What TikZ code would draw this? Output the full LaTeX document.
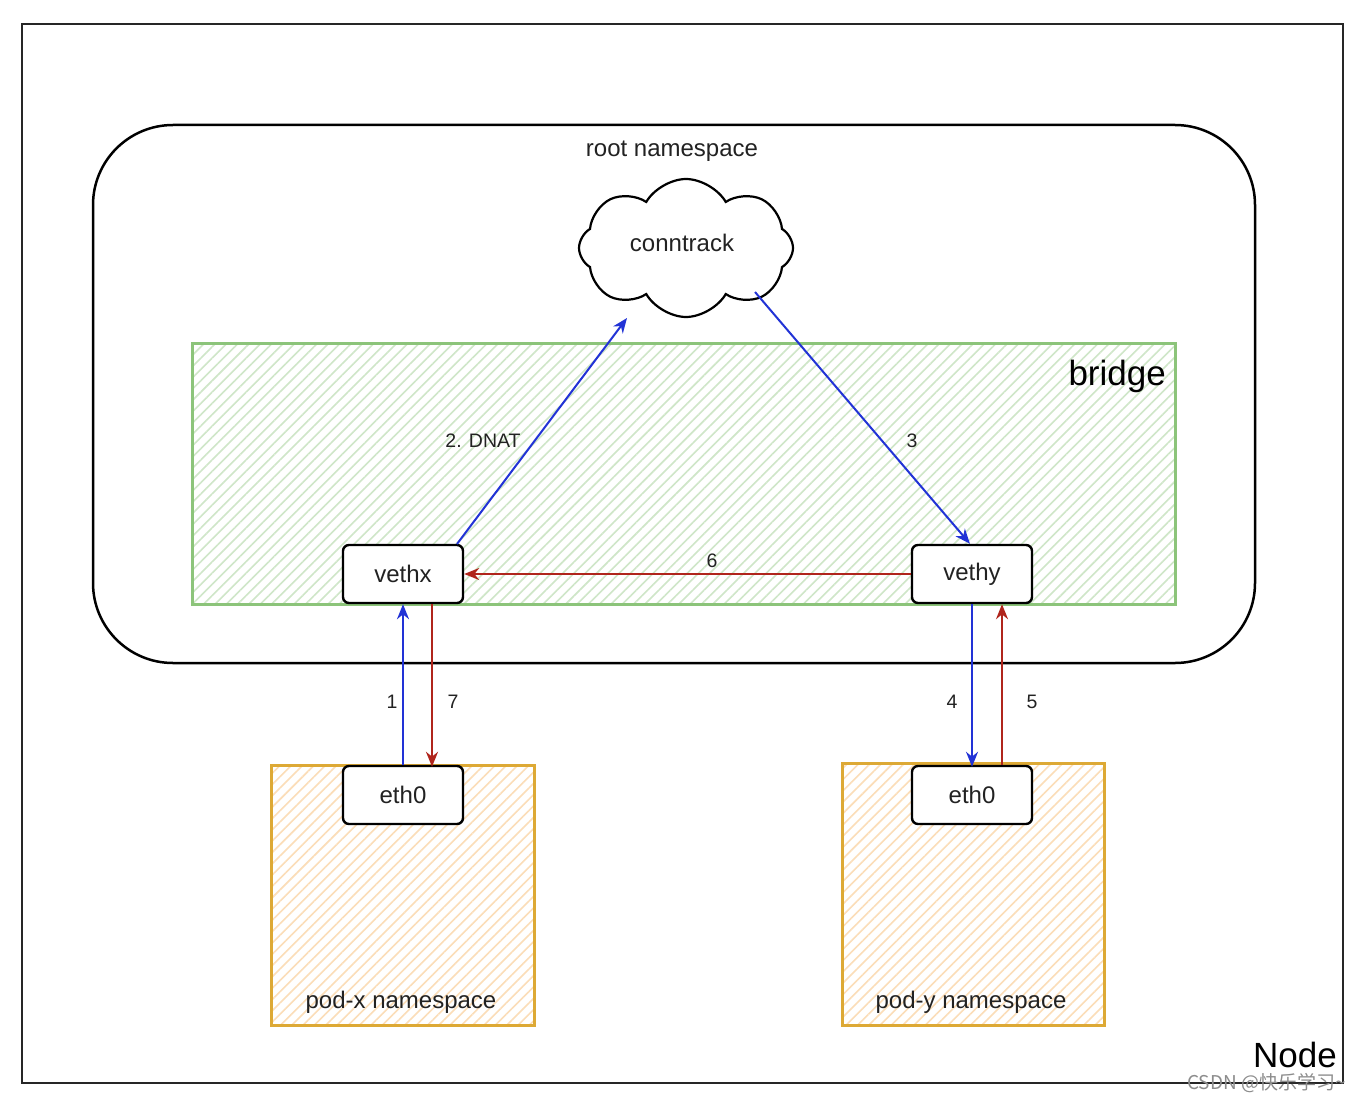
\documentclass[tikz,border=0pt]{standalone}
\usepackage{fontspec}
\setmainfont{Liberation Sans}
\newfontfamily\cjkfont{Noto Sans CJK SC}
\usetikzlibrary{shapes.symbols,patterns.meta,arrows.meta}
\definecolor{arrblue}{HTML}{2233D6}
\definecolor{arrred}{HTML}{B0251C}
\definecolor{brgreen}{HTML}{8CC47A}
\definecolor{hgreen}{HTML}{CFE6C8}
\definecolor{podor}{HTML}{DDA935}
\definecolor{hor}{HTML}{FBDDB8}
\definecolor{txt}{HTML}{222222}
\tikzset{
  iface/.style={draw=black, line width=2.4pt, rounded corners=6pt, fill=white,
    minimum width=120pt, minimum height=58pt, font=\fontsize{24}{28}\selectfont, text=txt, inner sep=0pt},
  blk/.style={line width=2pt, draw=arrblue, -{Stealth[length=15pt,width=12pt]}},
  rdk/.style={line width=2pt, draw=arrred, -{Stealth[length=15pt,width=12pt]}},
  numlbl/.style={font=\fontsize{19.5}{22}\selectfont, text=txt, inner sep=0pt},
  biglbl/.style={font=\fontsize{35}{40}\selectfont, text=black, inner sep=0pt},
  midlbl/.style={font=\fontsize{24}{28}\selectfont, text=txt, inner sep=0pt},
}
\begin{document}
\begin{tikzpicture}[x=1pt,y=-1pt]
\useasboundingbox (0,0) rectangle (1370,1102);
\fill[white] (0,0) rectangle (1370,1102);
% outer Node frame
\draw[line width=2pt, draw=black!85] (22,24) rectangle (1343,1083);
\node[biglbl, anchor=east] (nodelbl) at (1337,1055) {Node};
% root namespace
\draw[line width=2.5pt, rounded corners=80pt] (93,125) rectangle (1255,663);
\node[midlbl] (rootlbl) at (672,151) {root namespace};
% bridge
\fill[white] (192,343) rectangle (1175,604);
\fill[pattern={Lines[angle=45,distance=8pt,line width=1.6pt]}, pattern color=hgreen] (192,343) rectangle (1175,604);
\draw[line width=3pt, draw=brgreen] (192,343) rectangle (1175,604);
\node[biglbl, anchor=east] (bridgelbl) at (1166,376) {bridge};
% cloud
\node[cloud, cloud puffs=8, cloud puff arc=120, aspect=1.6, draw=black, line width=2.2pt, fill=white,
  minimum width=214pt, minimum height=138pt, font=\fontsize{24}{28}\selectfont, text=txt] (ct) at (686,248) {};
\node[midlbl] (ctlbl) at (682,243) {conntrack};
% pods
\fill[white] (271,765) rectangle (534,1025);
\fill[pattern={Lines[angle=45,distance=8pt,line width=1.6pt]}, pattern color=hor] (271,765) rectangle (534,1025);
\draw[line width=3pt, draw=podor] (271,765) rectangle (534,1025);
\node[midlbl] (podxlbl) at (401,1002) {pod-x namespace};
\fill[white] (842,763) rectangle (1104,1025);
\fill[pattern={Lines[angle=45,distance=8pt,line width=1.6pt]}, pattern color=hor] (842,763) rectangle (1104,1025);
\draw[line width=3pt, draw=podor] (842,763) rectangle (1104,1025);
\node[midlbl] (podylbl) at (971,1002) {pod-y namespace};
% interfaces
\node[iface] (vethx) at (403,574) {vethx};
\node[iface] (vethy) at (972,574) {vethy};
\node[iface] (ethx) at (403,795) {eth0};
\node[iface] (ethy) at (972,795) {eth0};
% arrow endpoints
\coordinate (dnatS) at (457,544);
\coordinate (dnatE) at (627,318);
\coordinate (ctS) at (755,292);
% arrows
\draw[blk] (dnatS) -- (dnatE);
\node[numlbl] (l2) at (483,441) {2. DNAT};
\draw[blk] (ctS) -- ([xshift=-2pt]vethy.north);
\node[numlbl] (l3) at (912,441) {3};
\draw[rdk] (vethy.west) -- (vethx.east);
\node[numlbl] (l6) at (712,561) {6};
\draw[blk] (ethx.north) -- (vethx.south);
\node[numlbl] (l1) at (392,702) {1};
\draw[rdk] ([xshift=29pt]vethx.south) -- ([xshift=29pt,yshift=-2pt]ethx.north);
\node[numlbl] (l7) at (453,702) {7};
\draw[blk] (vethy.south) -- ([yshift=-2pt]ethy.north);
\node[numlbl] (l4) at (952,702) {4};
\draw[rdk] ([xshift=30pt]ethy.north) -- ([xshift=30pt]vethy.south);
\node[numlbl] (l5) at (1032,702) {5};
% watermark
\node[font=\cjkfont\fontsize{19}{22}\selectfont, text=black!45, inner sep=0pt, anchor=west] (wm) at (1187,1083) {CSDN @快乐学习\string~};
\end{tikzpicture}
\end{document}
